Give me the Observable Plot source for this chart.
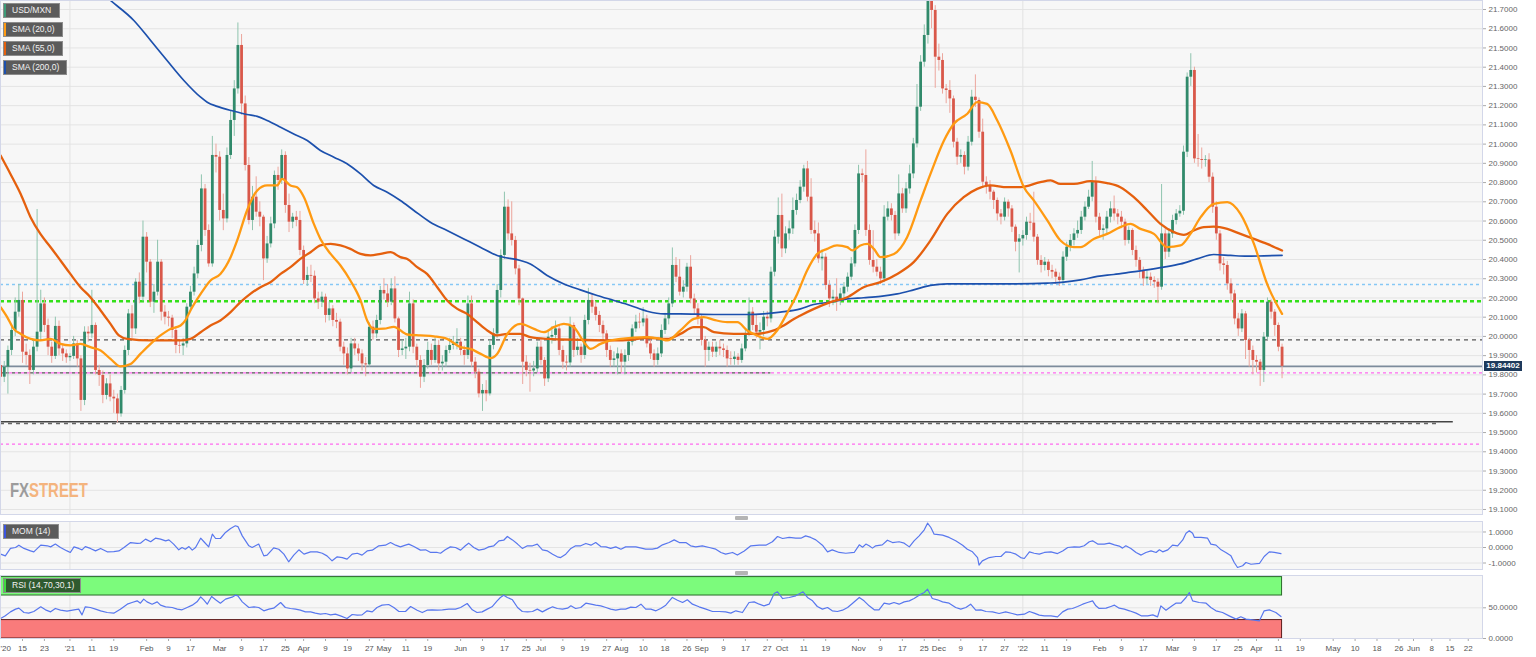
<!DOCTYPE html>
<html><head><meta charset="utf-8">
<script src="https://cdn.jsdelivr.net/npm/d3@7"></script>
<script src="https://cdn.jsdelivr.net/npm/@observablehq/plot@0.6"></script>
<style>
body{margin:0;background:#fff;font-family:"Liberation Sans",Arial,sans-serif;}
#wrap{position:relative;width:1536px;height:657px;overflow:hidden;background:#fff;}
.pl{position:absolute;left:0;}
.leg{position:absolute;left:3px;height:15px;background:#5b5b5b;border:1px solid #8c8c8c;color:#f2f2f2;font-size:8.5px;line-height:13px;padding-left:8px;box-sizing:border-box;white-space:nowrap;}
.leg i{position:absolute;left:0;top:0;bottom:0;width:2px;}
.handle{position:absolute;left:735px;width:13px;height:4px;background:#b4b4b4;border-radius:1px;}
#tag{position:absolute;left:1484px;width:38px;height:10px;background:#1e3a5c;color:#fff;font-size:8px;font-weight:bold;line-height:10px;text-align:center;}
#wm{position:absolute;left:10px;top:479px;font-family:"Liberation Sans",Arial;font-weight:bold;font-size:21px;line-height:21px;white-space:nowrap;transform:scaleX(0.71);transform-origin:0 0;}
</style></head><body><div id="wrap"></div>
<script>
// ---------- data ----------
const baseDate = "2020-12-15";      // trading day 0
const firstCandle = "2020-12-07";   // first visible daily candle
const firstOpen = 19.849;
const closes = [19.788,19.840,19.927,20.031,20.126,20.187,
19.918,19.901,19.823,19.944,20.022,20.169,20.057,19.944,19.896,20.052,19.935,19.909,19.889,19.896,19.961,19.883,19.667,20.022,20.013,20.057,
19.823,19.797,19.693,19.753,19.684,19.675,19.597,19.719,19.927,20.117,20.039,20.282,20.204,20.516,20.386,20.178,20.230,20.386,20.126,20.100,
20.095,20.031,19.953,19.950,19.961,20.152,20.230,20.325,20.473,20.767,20.551,20.377,20.941,20.932,20.655,20.611,20.941,21.123,21.287,21.513,
21.209,20.889,20.603,20.724,20.646,20.620,20.403,20.481,20.585,20.837,20.811,20.941,20.681,20.594,20.620,20.603,20.447,20.291,20.317,20.313,
20.195,20.178,20.204,20.109,20.143,20.083,20.074,19.944,19.909,19.831,19.961,19.935,19.909,19.857,19.852,20.048,20.013,20.083,20.239,20.221,
20.178,20.247,20.091,19.927,19.935,19.944,20.169,19.944,19.875,19.788,19.849,19.927,19.875,19.953,19.857,19.866,19.927,19.953,19.961,19.970,
19.927,19.901,20.169,19.866,19.814,19.701,19.719,19.701,19.953,20.013,20.239,20.421,20.672,20.533,20.499,20.351,20.195,19.866,19.823,19.820,
19.831,19.944,19.875,19.779,19.996,20.005,20.039,19.927,19.866,19.862,20.057,19.927,19.944,19.901,20.083,20.187,20.152,20.109,20.057,20.013,
19.927,19.875,19.883,19.909,19.866,19.901,19.970,20.039,20.074,20.070,20.091,19.961,19.909,19.875,19.909,20.031,20.091,20.169,20.369,20.308,
20.230,20.256,20.360,20.195,20.143,20.091,19.979,19.927,19.944,19.918,19.944,19.935,19.927,19.883,19.880,19.892,19.875,19.935,20.013,20.126,
20.057,20.022,20.031,20.100,20.091,20.334,20.516,20.629,20.455,20.533,20.559,20.655,20.707,20.776,20.871,20.724,20.551,20.533,20.403,20.412,
20.265,20.195,20.204,20.187,20.221,20.256,20.308,20.377,20.551,20.845,20.837,20.551,20.395,20.360,20.334,20.299,20.620,20.663,20.629,20.533,
20.741,20.663,20.767,20.845,21.001,21.192,21.426,21.565,21.800,21.695,21.452,21.435,21.287,21.279,21.235,21.010,20.932,20.941,20.880,21.010,
21.244,21.227,21.062,20.802,20.785,20.750,20.707,20.637,20.620,20.698,20.663,20.568,20.490,20.507,20.525,20.594,20.589,20.516,20.395,20.369,
20.386,20.343,20.334,20.308,20.291,20.412,20.464,20.499,20.533,20.551,20.620,20.672,20.724,20.802,20.620,20.551,20.559,20.620,20.663,20.637,
20.620,20.594,20.499,20.551,20.447,20.395,20.343,20.299,20.308,20.291,20.282,20.256,20.533,20.438,20.533,20.603,20.637,20.651,20.958,21.348,
21.383,20.923,20.920,20.915,20.918,20.828,20.672,20.533,20.377,20.369,20.273,20.221,20.091,20.039,20.117,19.979,19.927,19.875,19.866,19.823,
19.996,20.178,20.126,20.057,19.944,19.844];
const highs = [19.87,19.87,19.95,20.06,20.20,20.27,
20.23,19.96,19.93,19.98,20.66,20.24,20.20,20.09,19.97,20.10,20.08,19.96,19.93,19.91,20.00,19.98,19.90,20.05,20.05,20.24,
20.07,19.85,19.82,19.78,19.80,19.72,19.70,19.74,19.95,20.14,20.16,20.30,20.33,20.60,20.54,20.40,20.27,20.50,20.40,20.16,
20.13,20.11,20.05,19.98,19.99,20.17,20.26,20.36,20.50,20.84,20.79,20.58,21.04,21.00,20.96,20.74,20.98,21.17,21.33,21.63,
21.57,21.25,20.93,20.78,20.83,20.70,20.63,20.52,20.62,20.86,20.88,20.97,20.96,20.74,20.64,20.65,20.65,20.47,20.36,20.37,
20.34,20.23,20.23,20.22,20.18,20.16,20.12,20.09,19.97,19.94,19.99,19.99,19.96,19.93,19.89,20.07,20.08,20.11,20.26,20.30,
20.27,20.30,20.31,20.10,19.98,19.99,20.23,20.19,19.96,19.90,19.88,19.97,19.96,19.99,19.98,19.90,19.95,19.99,20.00,20.04,
19.99,19.95,20.21,20.21,19.89,19.83,19.75,19.77,19.98,20.04,20.27,20.45,20.75,20.71,20.70,20.52,20.37,20.20,19.90,19.86,
19.87,19.97,19.99,19.89,20.03,20.05,20.08,20.06,19.95,19.90,20.10,20.07,19.99,19.96,20.11,20.25,20.22,20.18,20.13,20.08,
20.03,19.95,19.92,19.94,19.93,19.93,19.99,20.06,20.11,20.12,20.15,20.11,19.98,19.93,19.94,20.06,20.12,20.20,20.46,20.41,
20.40,20.29,20.38,20.42,20.22,20.17,20.11,20.00,19.97,19.97,19.97,19.98,19.96,19.95,19.92,19.92,19.91,19.96,20.04,20.20,
20.15,20.11,20.07,20.13,20.13,20.36,20.55,20.72,20.74,20.57,20.60,20.72,20.74,20.81,20.89,20.91,20.82,20.60,20.59,20.45,
20.43,20.29,20.24,20.30,20.25,20.28,20.33,20.41,20.58,20.89,20.87,20.97,20.58,20.55,20.40,20.36,20.68,20.70,20.69,20.65,
20.84,20.77,20.80,20.89,21.03,21.31,21.46,21.62,22.05,21.85,21.72,21.52,21.47,21.31,21.33,21.25,21.03,20.97,20.96,21.04,
21.28,21.36,21.24,21.13,20.83,20.81,20.76,20.72,20.66,20.72,20.71,20.68,20.58,20.53,20.55,20.62,20.64,20.75,20.53,20.42,
20.41,20.40,20.37,20.35,20.33,20.44,20.49,20.53,20.56,20.60,20.65,20.70,20.76,20.91,20.83,20.64,20.58,20.65,20.70,20.73,
20.66,20.65,20.61,20.57,20.56,20.47,20.41,20.36,20.34,20.33,20.31,20.30,20.79,20.56,20.56,20.63,20.66,20.68,20.99,21.37,
21.47,21.40,21.05,20.98,20.94,20.95,20.85,20.70,20.55,20.41,20.39,20.30,20.24,20.12,20.14,20.13,19.99,19.95,19.90,19.88,
20.02,20.20,20.19,20.14,20.07,19.96];
const lows = [19.74,19.76,19.70,19.90,20.00,20.10,
19.86,19.85,19.75,19.80,19.92,19.98,20.02,19.90,19.86,19.88,19.90,19.87,19.86,19.87,19.88,19.84,19.61,19.64,19.97,19.99,
19.80,19.74,19.65,19.67,19.66,19.60,19.55,19.58,19.70,19.90,19.99,20.01,20.17,20.18,20.33,20.15,20.12,20.21,20.08,20.06,
20.05,19.99,19.91,19.91,19.90,19.94,20.13,20.21,20.30,20.44,20.52,20.36,20.36,20.85,20.60,20.55,20.59,20.92,21.04,21.26,
21.15,20.86,20.58,20.55,20.62,20.57,20.29,20.38,20.46,20.56,20.76,20.79,20.64,20.54,20.56,20.57,20.42,20.27,20.26,20.28,
20.17,20.14,20.15,20.07,20.08,20.05,20.04,19.92,19.85,19.80,19.81,19.90,19.87,19.82,19.79,19.84,19.98,19.99,20.06,20.19,
20.15,20.16,20.07,19.89,19.90,19.88,19.92,19.91,19.84,19.73,19.76,19.83,19.85,19.86,19.82,19.82,19.84,19.91,19.93,19.93,
19.90,19.85,19.88,19.84,19.78,19.68,19.61,19.66,19.69,19.93,19.99,20.20,20.40,20.50,20.47,20.32,20.16,19.75,19.79,19.71,
19.79,19.81,19.85,19.74,19.76,19.96,19.98,19.90,19.83,19.82,19.84,19.89,19.90,19.86,19.88,20.06,20.12,20.08,20.02,19.98,
19.89,19.84,19.84,19.80,19.81,19.80,19.87,19.95,20.02,20.04,20.05,19.94,19.88,19.84,19.85,19.89,20.01,20.06,20.15,20.28,
20.21,20.20,20.23,20.17,20.11,20.06,19.95,19.84,19.87,19.89,19.89,19.90,19.89,19.84,19.85,19.85,19.85,19.86,19.92,20.00,
20.03,19.99,19.93,20.00,20.05,20.07,20.31,20.48,20.41,20.43,20.50,20.53,20.63,20.69,20.75,20.70,20.53,20.49,20.38,20.34,
20.24,20.15,20.16,20.13,20.16,20.20,20.23,20.29,20.36,20.53,20.80,20.52,20.37,20.33,20.31,20.27,20.28,20.60,20.60,20.50,
20.52,20.64,20.64,20.74,20.82,20.98,21.17,21.40,21.52,21.60,21.29,21.38,21.26,21.21,21.16,20.98,20.89,20.90,20.84,20.86,
20.99,21.19,21.03,20.77,20.74,20.71,20.66,20.60,20.58,20.60,20.62,20.54,20.44,20.33,20.47,20.50,20.55,20.49,20.37,20.33,
20.34,20.31,20.30,20.27,20.26,20.27,20.39,20.44,20.47,20.51,20.53,20.60,20.66,20.70,20.59,20.52,20.50,20.53,20.59,20.60,
20.58,20.56,20.47,20.48,20.42,20.36,20.30,20.26,20.27,20.26,20.25,20.17,20.24,20.40,20.41,20.51,20.58,20.62,20.63,20.93,
21.30,20.90,20.88,20.87,20.88,20.80,20.64,20.50,20.34,20.32,20.24,20.18,20.06,20.00,20.02,19.88,19.84,19.80,19.81,19.74,
19.76,19.98,20.09,20.00,19.92,19.78];
const lastPrice = "19.84402";

// moving averages (trading day, value)
const sma20Day = [-6,-4.2,-2.4,-0.5,2.2,4.9,7.7,10.4,13.1,15.9,18.6,21.4,24.1,26.8,29.6,32.3,35.1,37.8,40.5,43.3,44.6,46.0,48.8,51.5,54.2,57.0,58.8,61.5,64.3,67.0,69.7,71.1,73.4,75.2,77.1,79.8,81.6,84.4,87.1,89.8,92.6,94.4,96.2,99.0,101.7,105.4,109.0,112.7,116.3,120.0,122.7,125.5,128.2,130.0,132.8,136.4,140.1,142.8,145.5,148.3,151.0,153.8,155.6,158.3,161.1,163.8,171.1,174.8,176.6,180.2,183.9,186.6,189.4,193.0,195.8,198.5,201.2,204.0,206.7,209.4,212.2,214.9,217.7,220.4,223.1,225.9,227.3,229.5,231.4,233.2,235.0,238.7,242.3,246.0,248.7,252.4,255.1,258.8,261.5,264.2,267.0,270.6,274.3,277.0,280.7,284.3,288.0,289.8,293.4,297.1,300.7,303.5,306.2,309.9,313.5,317.2,319.9,322.7,326.3,330.0,333.6,337.3,340.9,345.0];
const sma20Val = [20.152,20.100,20.039,20.013,19.987,19.979,19.987,19.961,19.953,19.961,19.944,19.927,19.883,19.844,19.857,19.909,19.961,20.005,20.039,20.057,20.083,20.135,20.221,20.291,20.325,20.412,20.499,20.655,20.759,20.785,20.785,20.819,20.785,20.776,20.724,20.585,20.507,20.429,20.369,20.291,20.187,20.083,20.039,20.040,20.050,20.010,20.005,20.000,19.987,19.944,19.935,19.909,19.887,19.909,20.013,20.065,20.039,20.022,20.048,20.065,20.048,19.970,19.935,19.961,19.979,19.987,19.996,19.987,19.979,20.031,20.091,20.100,20.086,20.074,20.074,20.031,20.005,19.987,20.031,20.120,20.221,20.343,20.429,20.455,20.473,20.464,20.447,20.473,20.481,20.455,20.412,20.429,20.516,20.707,20.845,21.019,21.106,21.158,21.218,21.209,21.123,20.967,20.776,20.707,20.603,20.499,20.464,20.464,20.507,20.533,20.568,20.585,20.559,20.533,20.464,20.473,20.533,20.620,20.689,20.698,20.637,20.481,20.273,20.117];
const sma55Day = [-6,-3.3,-0.5,2.2,4.9,7.7,10.4,13.1,15.9,18.6,21.4,24.1,26.4,28.7,35.1,43.3,46.0,48.8,51.5,54.2,57.0,59.7,62.4,65.2,67.9,70.7,73.4,76.1,78.9,81.6,84.4,87.1,89.8,92.6,95.3,98.1,100.8,103.5,105.4,108.1,110.8,113.6,116.3,119.1,121.8,124.5,127.3,130.0,132.8,136.4,139.1,143.7,152.8,162.0,166.5,171.1,176.6,180.2,183.9,186.6,189.4,194.8,200.3,205.8,208.5,211.3,213.1,216.8,221.3,225.9,230.4,235.0,239.6,244.1,248.7,253.3,257.8,261.5,265.1,269.7,273.4,278.8,281.6,284.3,288.0,292.5,297.1,300.7,304.4,308.1,311.7,315.4,318.1,320.8,323.6,326.3,330.0,333.6,337.3,340.9,345.0];
const sma55Val = [20.941,20.845,20.741,20.620,20.533,20.464,20.395,20.325,20.256,20.204,20.135,20.065,20.005,19.987,19.979,19.979,19.987,20.022,20.057,20.083,20.126,20.178,20.221,20.256,20.282,20.325,20.360,20.403,20.438,20.473,20.481,20.473,20.455,20.429,20.421,20.429,20.438,20.412,20.403,20.360,20.325,20.256,20.187,20.143,20.117,20.074,20.031,20.005,20.013,20.013,19.996,19.987,19.982,19.979,19.982,19.993,19.987,20.013,20.048,20.048,20.022,20.013,20.013,20.031,20.057,20.091,20.109,20.143,20.178,20.204,20.256,20.282,20.325,20.386,20.499,20.637,20.724,20.767,20.785,20.776,20.776,20.802,20.811,20.793,20.793,20.807,20.797,20.776,20.724,20.655,20.585,20.542,20.528,20.551,20.568,20.571,20.559,20.533,20.507,20.481,20.447];
const sma200Day = [-6,24.1,30.5,35.1,39.6,44.2,48.8,50.6,53.3,57.9,61.5,64.3,67.0,70.7,74.3,78.0,81.6,85.3,88.9,92.6,96.2,99.9,103.5,107.2,111.7,116.3,120.9,125.4,130.0,136.4,139.1,143.7,148.3,152.8,157.4,162.0,166.5,171.1,175.7,180.2,189.3,198.5,203.0,207.6,213.1,216.7,221.3,225.9,230.4,235.0,239.6,244.1,248.7,253.3,262.4,271.5,280.7,285.2,289.8,294.4,298.9,303.5,308.0,312.6,317.2,321.7,326.3,330.9,335.4,340.0,345.0];
const sma200Val = [22.23,21.747,21.643,21.539,21.435,21.331,21.244,21.218,21.196,21.171,21.154,21.144,21.123,21.088,21.053,21.019,20.967,20.932,20.898,20.845,20.785,20.750,20.707,20.655,20.594,20.551,20.507,20.464,20.421,20.395,20.377,20.317,20.273,20.242,20.213,20.187,20.161,20.131,20.117,20.117,20.114,20.114,20.117,20.126,20.143,20.166,20.178,20.195,20.201,20.208,20.221,20.242,20.265,20.273,20.273,20.273,20.277,20.282,20.294,20.312,20.322,20.334,20.346,20.360,20.377,20.403,20.426,20.421,20.417,20.419,20.421];

// momentum (14) and RSI (14)
const momDay = [-6,-4.7,-3.3,-1.9,-1,0.4,2.2,3.1,5,6.8,7.7,9,10.4,12.2,13.1,14.1,15.4,16.3,17.2,18.6,20,21.4,23.2,25,26.4,27.8,29.6,31.4,32.3,33.7,35.1,36.4,37.8,39.2,40.1,41.4,42.8,43.7,44.6,45.6,46.5,47.4,48.8,49.7,51,52,52.9,54.2,55.6,57,58.3,59,60.2,62,62.9,63.8,64.7,66.1,67,68.8,70.2,71.6,72.9,74.3,75.7,77.1,78.9,80.7,82.1,83.4,84.8,86.2,87.6,88.9,90.3,91.7,93,94.4,95.8,97.6,99.4,100.8,102.2,103.5,104.9,105.8,107.2,109,110.4,111.8,113.6,114.5,115.8,117.2,118.6,120,121.3,122.2,123.6,125,126.4,127.7,129.1,130.5,131.8,132.8,
134.2,135.6,136.9,138.3,139.7,141,142.4,143.8,145.2,146.5,147.4,148.8,150.2,151.5,152.9,154.3,155.7,157,158.4,159.8,161.1,162.5,163.9,165.2,168,170.7,172.5,173.9,175.3,177.1,178.5,179.9,181.7,183,184.4,186.2,188.1,189.9,191.3,192.6,194.5,195.8,197.7,199.5,201.8,203.6,205.4,206.8,208.2,210,211.8,213.2,214.5,215.9,217.3,219.1,220.5,221.8,223.7,225.5,227.8,229.2,230.1,231,231.9,232.8,233.7,235.5,236.9,238.3,240.1,241.5,242.9,244.2,245.6,247,247.9,248.8,249.7,252,253.8,255.6,257.5,258.8,260.2,261.6,262,262.9,264.8,266.6,268,269.3,270.7,272.1,273.4,274.4,
275.8,277.1,278.5,279.9,281.7,283.5,284.9,286.3,288.1,289.5,290.8,292.2,293.1,294.5,296.3,297.7,299.1,300.4,301.3,302.2,303.6,305,306.4,307.7,309.1,310.5,311.4,312.3,313.7,315,316.4,317.8,318.7,319.6,320.5,321,322.8,324.6,325.5,326.9,328.3,329.6,331,331.9,332.8,334.2,335.1,336.5,338.8,340.1,341.5,342.9,344.7];
const momVal = [-0.43,-0.54,-0.06,0,0.15,-0.06,-0.22,-0.28,0.15,0.11,0.04,0.22,0,-0.22,-0.32,0.04,-0.06,-0.15,0.06,-0.06,-0.22,-0.06,-0.28,-0.26,-0.22,0,0.32,0.26,0.28,0.54,0.37,0.6,0.54,0.43,0.49,0.22,-0.15,0,-0.11,0.06,-0.17,0,0.6,0.37,0.04,0.86,0.58,0.58,0.97,1.23,1.4,1.35,0.75,0.11,0,0.11,0.22,-0.54,-0.49,-0.02,-0.11,-0.43,-0.92,-0.49,-0.15,-0.43,-0.28,-0.28,-0.37,-0.54,-0.86,-0.6,-0.65,-0.75,-0.43,-0.37,-0.49,-0.22,-0.17,0.11,0.15,0.32,0.15,0.04,0.15,0.22,0.06,-0.17,-0.15,-0.32,-0.32,-0.37,-0.15,0.04,0,-0.17,0.11,0.28,0,-0.17,-0.11,0.04,0.11,0.43,0.47,0.71,
0.49,0.22,-0.06,0.11,0.11,0.22,-0.15,-0.22,-0.43,-0.6,-0.65,-0.43,-0.06,0.11,0.11,0.26,0.15,0.32,0.06,0.04,-0.06,0.04,-0.11,0.04,0.04,-0.11,-0.11,-0.04,0.17,0.32,0.49,0.32,0.32,0.11,0.04,0.11,0,-0.11,-0.32,-0.43,-0.32,-0.49,-0.22,0.11,0.15,0.15,0.37,0.71,0.58,0.65,0.6,0.6,0.75,0.65,0.49,0.15,-0.28,-0.15,-0.32,-0.37,-0.32,0.17,0.02,0.22,0.11,-0.04,0.11,0.17,0.47,0.32,0.37,0.28,0.04,0.43,0.75,1.14,1.57,1.29,0.86,0.8,0.65,0.43,0.15,-0.11,-0.28,-0.65,-1.14,-0.86,-0.65,-0.58,-0.58,-0.28,-0.32,-0.43,-0.65,-0.71,
-0.28,-0.37,-0.43,-0.32,-0.28,-0.39,-0.22,0,0.04,0.02,0.11,0.37,0.43,0.22,0.22,0.28,0.17,0.09,-0.04,0.11,-0.06,-0.32,-0.49,-0.32,-0.22,-0.32,-0.15,-0.28,-0.15,0.15,0.11,0.49,0.92,1.08,0.92,0.65,0.65,0.6,0.22,0.15,-0.15,-0.32,-0.54,-0.97,-1.29,-1.18,-0.97,-1.08,-1.03,-0.58,-0.28,-0.32,-0.39];
const rsiDay = [-6,-4.7,-3.3,-1.9,-1,0.4,1.7,3.1,5,6.3,7.7,9,10.4,12.2,14.1,15.4,16.3,17.2,18.6,20,21.4,23.2,25,26.8,28.7,30,31.4,32.3,33.2,34.1,35.5,36.9,37.8,39.2,41,42.4,43.7,45.1,46.5,47.8,48.8,49.7,50.6,51.8,52.9,54.2,55.6,57.4,58.3,59,60.2,62,63.4,64.7,66.1,67.5,68.8,70.7,72,73.4,74.8,76.1,77.5,78.9,80.2,81.6,83,84.4,85.7,87.1,88.9,90.3,91.7,93,94.4,95.8,97.1,98.5,100.3,101.7,103.1,104.9,106.3,108.1,109.5,110.8,112.2,113.6,115,116.8,118.6,120,121.8,123.2,124.5,125.9,127.3,128.6,130,130.9,131.8,132.8,134.2,
135.6,136.9,138.3,139.7,141,142.4,143.8,145.2,146.5,147.9,149.3,150.2,151.5,152.9,154.3,155.7,157,158.4,159.8,161.1,162.5,163.9,165.2,166.6,168,169.4,170.7,172.1,173.5,174.8,176.2,178,179.4,180.8,182.1,183.5,185.3,187.2,189,190.8,192.6,194,195.4,197.2,199,200.4,201.8,203.1,204.5,205.9,206.8,208.2,210,211.8,213.8,215,216.4,217.7,219.1,220.5,221.8,223.2,224.6,226,227.3,229.2,230.5,231.9,233.3,234.6,236,237.4,238.7,240.1,241.5,242.9,244.2,245.6,247,247.9,249.2,250.6,252,253.8,255.6,257,258.4,259.7,261.1,262.5,263.9,265.7,267.5,269.3,271.1,272.5,274.4,
275.8,277.1,278.5,279.9,281.7,283.5,284.9,286.3,287.6,289,290.4,291.7,293.1,294,294.9,296.8,298.1,299.1,300.4,301.8,303.2,305,306.4,308.2,309.6,310.9,311.8,313.2,314.6,315.9,317.3,318.7,319.6,320.5,322.3,324.2,325.5,326.9,328.7,330.5,332.4,333.7,335.1,336.9,338.8,340.1,341.5,343.3,344.7];
const rsiVal = [32.6,36.9,43.4,47.8,49.4,42.3,41.3,44.0,51.6,46.7,43.4,48.9,46.1,44.5,46.7,47.8,38.5,51.6,50.5,47.8,45.1,42.3,41.3,47.8,55.9,58.6,61.3,57.5,64.1,59.7,55.9,59.7,54.3,51.6,50.5,47.8,46.7,50.5,54.3,59.7,67.9,62.4,55.9,68.4,63.0,57.5,64.1,67.3,70.6,69.5,59.7,50.5,51.6,50.5,45.1,47.8,49.4,58.6,50.5,48.9,47.8,46.1,43.4,43.4,41.3,39.6,40.7,38.5,39.6,36.9,32.6,39.1,38.0,38.5,45.1,43.4,50.5,54.3,55.4,50.5,44.0,44.0,52.1,46.1,42.3,46.1,46.7,46.1,46.7,47.8,47.8,50.5,57.0,46.7,42.3,43.4,47.8,51.6,61.3,66.8,70.6,66.8,63.0,
50.5,44.0,43.4,44.0,47.8,43.4,47.8,51.6,48.9,47.8,49.4,53.2,48.9,50.5,57.5,55.9,54.3,53.2,50.5,47.8,46.1,47.8,47.8,51.0,50.5,55.9,47.8,47.8,45.1,48.9,54.3,66.8,62.4,58.6,63.0,55.9,51.6,47.8,44.0,44.0,43.4,41.3,45.1,42.3,58.6,59.7,55.9,53.2,55.9,73.3,76.0,65.1,66.8,69.5,76.0,66.8,61.3,52.1,47.8,50.5,45.1,44.0,46.1,50.5,57.0,66.8,61.3,53.2,46.7,46.7,57.5,55.9,58.6,55.9,59.7,61.3,65.1,70.6,74.9,80.3,65.1,63.0,59.7,57.5,50.5,47.8,50.5,55.9,46.1,46.7,44.0,43.4,40.7,43.4,40.7,38.5,39.6,
44.0,41.3,38.0,36.9,36.9,35.3,43.4,47.8,48.9,52.1,55.9,58.6,61.3,53.2,48.9,49.4,52.1,54.3,49.4,47.8,45.1,41.3,36.9,36.9,38.5,35.3,53.2,46.1,52.1,57.5,57.5,66.8,74.9,61.3,58.6,57.5,50.5,45.1,42.3,36.9,31.5,35.3,31.5,30.4,28.8,45.1,46.7,42.3,35.8];

// horizontal levels drawn on the price panel
const levelValue = [20.27, 20.183, 19.982, 19.81, 19.81, 19.556, 19.547, 19.44];
const levelEndDay = [null, null, null, 205, null, 391.9, 388.1, null];

// axis ticks
const yTicks = [19.1,19.2,19.3,19.4,19.5,19.6,19.7,19.8,19.9,20.0,20.1,20.2,20.3,20.4,20.5,20.6,20.7,20.8,20.9,21.0,21.1,21.2,21.3,21.4,21.5,21.6,21.7];
const momTicks = [-1, 0, 1];
const rsiTicks = [0, 50];
const rsiBands = [[70, 100], [0, 30]];
const tickDates = ["2020-12-07","2020-12-15","2020-12-23","2021-01-01","2021-01-11","2021-01-19","2021-02-01","2021-02-09","2021-02-17","2021-03-01","2021-03-09","2021-03-17","2021-03-25","2021-04-01","2021-04-09","2021-04-19","2021-04-27","2021-05-03","2021-05-11","2021-05-19","2021-06-01","2021-06-09","2021-06-17","2021-06-25","2021-07-01","2021-07-09","2021-07-19","2021-07-27","2021-08-02","2021-08-10","2021-08-18","2021-08-26","2021-09-01","2021-09-09","2021-09-17","2021-09-27","2021-10-01","2021-10-11","2021-10-19","2021-11-01","2021-11-09","2021-11-17","2021-11-25","2021-12-01","2021-12-09","2021-12-17","2021-12-27","2022-01-03","2022-01-11","2022-01-19","2022-02-01","2022-02-09","2022-02-17","2022-03-01","2022-03-09","2022-03-17","2022-03-25","2022-04-01","2022-04-11","2022-04-19","2022-05-02","2022-05-10","2022-05-18","2022-05-26","2022-06-01","2022-06-08","2022-06-15","2022-06-22"];
const tickLabels = ["'20","15","23","'21","11","19","Feb","9","17","Mar","9","17","25","Apr","9","19","27","May","11","19","Jun","9","17","25","Jul","9","19","27","Aug","10","18","26","Sep","9","17","27","Oct","11","19","Nov","9","17","25","Dec","9","17","27","'22","11","19","Feb","9","17","Mar","9","17","25","Apr","11","19","May","10","18","26","Jun","8","15","22"];
const yearDates = ["2021-01-01", "2022-01-03"];

// ---------- helpers ----------
function dayNum(s) { // weekday count from baseDate
  const a = new Date(baseDate + "T00:00:00Z"), b = new Date(s + "T00:00:00Z");
  const days = Math.round((b - a) / 864e5), sign = days < 0 ? -1 : 1;
  let n = 0; const d = new Date(a);
  for (let k = 0; k < Math.abs(days); k++) {
    d.setUTCDate(d.getUTCDate() + sign);
    const w = d.getUTCDay(); if (w !== 0 && w !== 6) n += sign;
  }
  return n;
}
const d0 = dayNum(firstCandle);
const candles = closes.map((c, k) => {
  const o = k ? closes[k - 1] : firstOpen;
  return {day: d0 + k, open: o, close: c, high: highs[k], low: lows[k], up: c >= o};
});
const lastDay = d0 + closes.length - 1;
const pairs = (xs, ys) => xs.map((x, k) => ({day: x, v: ys[k]}));
const sma20 = pairs(sma20Day, sma20Val), sma55 = pairs(sma55Day, sma55Val), sma200 = pairs(sma200Day, sma200Val);
const momData = pairs(momDay, momVal), rsiData = pairs(rsiDay, rsiVal);
const tickDays = tickDates.map(dayNum);
const labelOf = new Map(tickDays.map((d, k) => [d, tickLabels[k]]));
const yearDays = yearDates.map(dayNum);

const xDomain = [-6.026, 399.9];
const FONT = "Liberation Sans, Arial, sans-serif";
const BG = "#f7f7f7", GRID = "#e4e4e4", BORDER = "#d3d7e9";
const common = {width: 1536, marginLeft: 0, marginRight: 54, marginTop: 0,
  x: {domain: xDomain, axis: null}, color: {type: "identity"},
  style: {background: "transparent", fontFamily: FONT, color: "#666", overflow: "visible"}};
const yAxis = ticks => Plot.axisY({anchor: "right", ticks, tickFormat: d => d.toFixed(4), tickSize: 3, tickPadding: 3, fontSize: 8, fill: "#666", stroke: "#aaa", label: null});

const lv = levelValue.map((v, k) => ({v, to: levelEndDay[k] == null ? xDomain[1] : levelEndDay[k]}));
const lvStyle = [
  {stroke: "#86c8f5", strokeWidth: 1.3, strokeDasharray: "3,3"},
  {stroke: "#33e01a", strokeWidth: 2.6, strokeDasharray: "4,3"},
  {stroke: "#555", strokeWidth: 1.3, strokeDasharray: "4,4"},
  {stroke: "#555", strokeWidth: 1.3, strokeDasharray: "3,3"},
  {stroke: "#ff6bf0", strokeWidth: 1.3, strokeDasharray: "3,3", strokeDashoffset: 3},
  {stroke: "#444", strokeWidth: 1.4},
  {stroke: "#666", strokeWidth: 1.3, strokeDasharray: "4,4"},
  {stroke: "#ff6bf0", strokeWidth: 1.3, strokeDasharray: "3,3"}
];
const levelMarks = lv.map((d, k) => Plot.ruleY([d], {y: "v", x1: () => xDomain[0], x2: "to", ...lvStyle[k]}));

// ---------- price panel ----------
const main = Plot.plot({...common, height: 514, marginBottom: 0,
  y: {domain: [19.0739, 21.7468], axis: null},
  marks: [
    Plot.frame({fill: BG, stroke: null}),
    Plot.gridY(yTicks, {stroke: GRID, strokeOpacity: 1}),
    Plot.ruleX(yearDays, {stroke: "#e2e2e2"}),
    ...levelMarks.slice(0, 5),
    Plot.ruleY([Number(lastPrice)], {stroke: "#7d8b9c", strokeWidth: 1.6}),
    ...levelMarks.slice(5),
    Plot.ruleX(candles, {x: "day", y1: "low", y2: "high", stroke: d => d.up ? "#8fc4ae" : "#eca69d", strokeWidth: 1, clip: true}),
    Plot.ruleX(candles, {x: "day", y1: "open", y2: "close", stroke: d => d.up ? "#318a6b" : "#d9584a", strokeWidth: 2.8, clip: true}),
    Plot.line(sma200, {x: "day", y: "v", stroke: "#1c50ad", strokeWidth: 1.7, curve: "monotone-x", clip: true}),
    Plot.line(sma55, {x: "day", y: "v", stroke: "#e5600e", strokeWidth: 2.3, curve: "monotone-x", clip: true}),
    Plot.line(sma20, {x: "day", y: "v", stroke: "#ff9a12", strokeWidth: 2.3, curve: "monotone-x", clip: true}),
    yAxis(yTicks),
    Plot.frame({stroke: BORDER})
  ]});

// ---------- momentum panel ----------
const mom = Plot.plot({...common, height: 48, marginBottom: 0,
  y: {domain: [-1.419, 1.677], axis: null},
  marks: [
    Plot.frame({fill: BG, stroke: null}),
    Plot.gridY(momTicks, {stroke: GRID, strokeOpacity: 1}),
    Plot.ruleX(yearDays, {stroke: "#e2e2e2"}),
    Plot.line(momData, {x: "day", y: "v", stroke: "#5877ee", strokeWidth: 1.2}),
    yAxis(momTicks),
    Plot.frame({stroke: BORDER})
  ]});

// ---------- RSI panel + date axis ----------
const rsi = Plot.plot({...common, height: 82, marginBottom: 19,
  y: {domain: [0, 102.6], axis: null},
  marks: [
    Plot.frame({fill: BG, stroke: null}),
    Plot.gridY([50], {stroke: GRID, strokeOpacity: 1}),
    Plot.ruleX(yearDays, {stroke: "#e2e2e2"}),
    Plot.rect([rsiBands[0]], {x1: () => d0, x2: () => lastDay, y1: d => d[0], y2: d => d[1], fill: "#7cfb7c", stroke: "#2a6a2a", strokeWidth: 1}),
    Plot.rect([rsiBands[1]], {x1: () => d0, x2: () => lastDay, y1: d => d[0], y2: d => d[1], fill: "#f97b7b", stroke: "#5c1c1c", strokeWidth: 1}),
    Plot.line(rsiData, {x: "day", y: "v", stroke: "#5877ee", strokeWidth: 1.2}),
    yAxis(rsiTicks),
    Plot.axisX({anchor: "bottom", ticks: tickDays.slice(1), tickFormat: d => labelOf.get(d), tickSize: 3, tickPadding: 4, fontSize: 8, fill: "#555", stroke: "#aaa", label: null}),
    Plot.text([tickDays[0]], {x: d => d, frameAnchor: "bottom", lineAnchor: "top", dy: 7, text: d => labelOf.get(d), textAnchor: "start", fontSize: 8, fill: "#555"}),
    Plot.frame({stroke: BORDER})
  ]});

// ---------- assemble ----------
const wrap = document.getElementById("wrap");
[[main, 0], [mom, 521], [rsi, 575]].forEach(([p, top]) => { p.classList.add("pl"); p.style.top = top + "px"; wrap.appendChild(p); });

function box(top, text, fill, stripe, width) {
  const d = document.createElement("div");
  d.className = "leg"; d.style.top = top + "px"; d.style.width = width + "px"; d.style.background = fill;
  d.innerHTML = `<i style="background:${stripe}"></i>${text}`;
  wrap.appendChild(d);
}
box(3, "USD/MXN", "#5b5b5b", "#3c9a78", 57);
box(22, "SMA (20,0)", "#5b5b5b", "#ff9a12", 60);
box(41, "SMA (55,0)", "#5b5b5b", "#e5600e", 60);
box(60, "SMA (200,0)", "#5b5b5b", "#1c50ad", 64);
box(524, "MOM (14)", "#5b5b5b", "#3c55e0", 56);
box(578, "RSI (14,70,30,1)", "#2f5a2f", "#41d941", 78);

[516, 570.5].forEach(t => { const h = document.createElement("div"); h.className = "handle"; h.style.top = t + "px"; wrap.appendChild(h); });

const tag = document.createElement("div");
tag.id = "tag"; tag.textContent = lastPrice;
tag.style.top = (main.scale("y").apply(Number(lastPrice)) - 5) + "px";
wrap.appendChild(tag);

const wm = document.createElement("div");
wm.id = "wm"; wm.innerHTML = '<span style="color:#9c9c9c">FX</span><span style="color:#f4b47e">STREET</span>';
wrap.appendChild(wm);
</script></body></html>
